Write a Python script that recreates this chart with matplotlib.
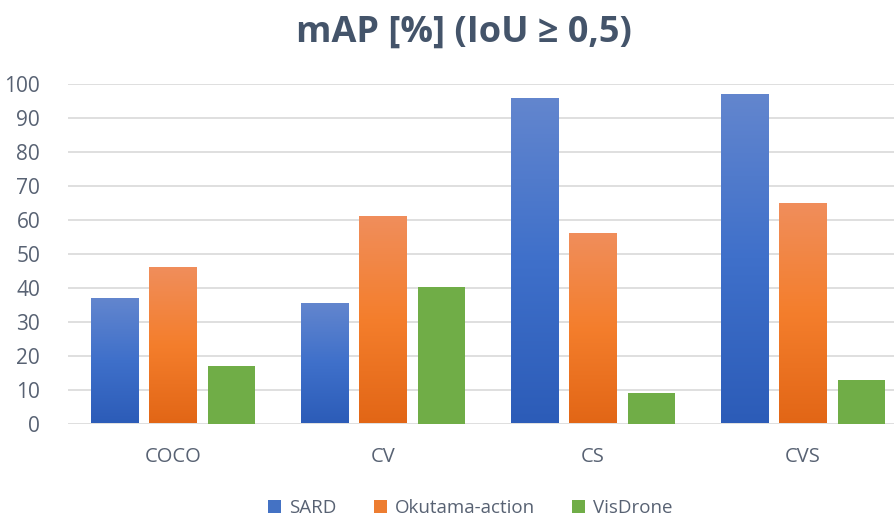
import numpy as np
import matplotlib
matplotlib.use("Agg")
import matplotlib.pyplot as plt
from matplotlib.colors import LinearSegmentedColormap

categories = ["COCO", "CV", "CS", "CVS"]
series = ["SARD", "Okutama-action", "VisDrone"]
sard = [37, 35.5, 96, 97]
okutama = [46, 61.2, 56, 65]
visdrone = [17, 40.2, 9, 12.9]
yticks = [0, 10, 20, 30, 40, 50, 60, 70, 80, 90, 100]

plt.rcParams['font.family'] = ['Open Sans', 'DejaVu Sans']
txt = '#586273'

# gradient (bottom -> top) per series, green is flat
grads = [
    LinearSegmentedColormap.from_list('b', ['#2C5CB8', '#3F70CA', '#6386CE']),
    LinearSegmentedColormap.from_list('o', ['#E26616', '#F47E2C', '#F08E5C']),
    None,
]
base = ['#4472C4', '#ED7D31', '#70AD47']

fig = plt.figure(figsize=(8.94, 5.2), dpi=100)
ax = fig.add_axes([68 / 894, 1 - 423.5 / 520, 840 / 894, 339.5 / 520])

x = np.arange(len(categories))
w = 0.224
step = 0.277
grad = np.linspace(0, 1, 256).reshape(-1, 1)
handles = []
for i, vals in enumerate([sard, okutama, visdrone]):
    bars = ax.bar(x + (i - 1) * step, vals, w, color=base[i], zorder=3,
                  label=series[i], edgecolor='none')
    handles.append(bars)
    if grads[i] is not None:
        for b in bars:
            b.set_facecolor('none')
            im = ax.imshow(grad, cmap=grads[i], origin='lower', aspect='auto',
                           extent=[b.get_x(), b.get_x() + b.get_width(), 0, b.get_height()],
                           zorder=3)
            im.set_clip_path(b)
ax.set_xlim(-0.5, len(categories) - 0.5)
ax.set_ylim(0, 100)

ax.set_yticks(yticks)
ax.set_xticks(x)
ax.set_xticklabels(categories)
ax.tick_params(axis='y', length=0, labelsize=15, colors=txt, pad=20)
ax.tick_params(axis='x', length=0, labelsize=14.5, colors=txt, pad=17)
for s in ax.spines.values():
    s.set_visible(False)
ax.grid(axis='y', color='#D9D9D9', linewidth=1.2, zorder=0)
ax.set_axisbelow(True)

fig.text(0.519, 0.937, "mAP [%] (IoU \u2265 0,5)", ha='center', va='center',
         fontsize=26, fontweight='bold', color='#44546A')

fig.legend(handles, series, loc='center', bbox_to_anchor=(0.526, 0.023), ncol=3,
           frameon=False, fontsize=13.5, labelcolor=txt, handlelength=0.7,
           handleheight=0.7, handletextpad=0.4, columnspacing=2.0)
for h, c in zip(fig.legends[0].legend_handles, base):
    h.set_facecolor(c)

fig.savefig("out.png", dpi=100)
